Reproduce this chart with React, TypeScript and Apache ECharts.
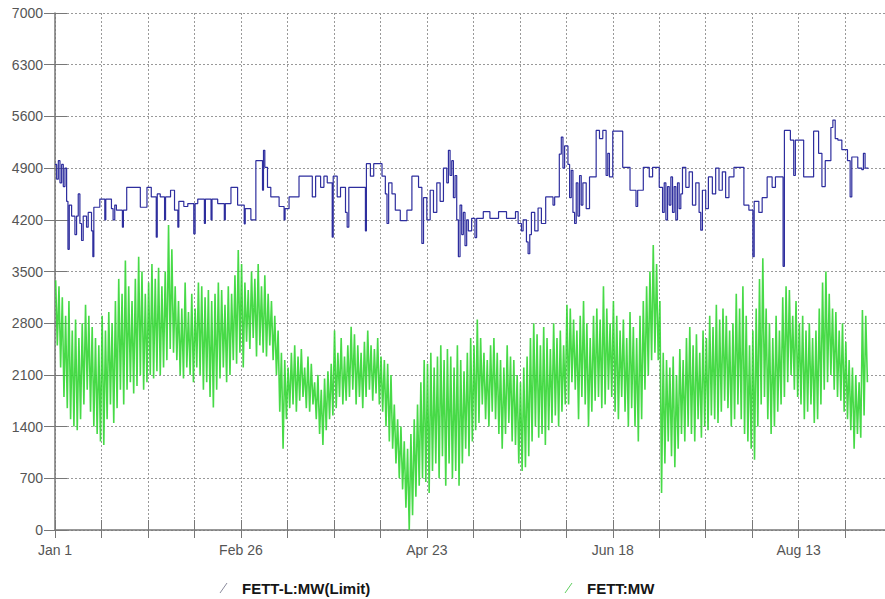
import React, { useEffect, useRef } from "react";
import * as echarts from "echarts";

// Series names
const LIMIT_NAME = "FETT-L:MW(Limit)";
const FLOW_NAME = "FETT:MW";

// X axis: day index from Jan 1, labelled every 56 days
const xLabelDays = [0, 56, 112, 168, 224];
const xLabelTexts = ["Jan 1", "Feb 26", "Apr 23", "Jun 18", "Aug 13"];

// Y axis
const yMin = 0;
const yMax = 7000;
const yStep = 700;

// FETT-L:MW(Limit) — stepped limit, [day, MW] change points
const limitSteps: [number, number][] = [
  [0, 4950], [0.5, 4750], [1, 5000], [1.5, 4700], [2, 4950], [2.5, 4650], [3, 4900], [3.5, 4450],
  [3.9, 3800], [4.3, 4400], [5, 4250], [6, 4000], [6.5, 4250], [7, 4550], [7.5, 4150], [8, 3920],
  [8.5, 4250], [9.5, 4100], [10, 4300], [11, 4050], [11.4, 3700], [11.7, 4370], [13.5, 4480],
  [15, 4200], [15.3, 4480], [17, 4350], [17.5, 4200], [18, 4400], [18.5, 4330], [20.3, 4100],
  [20.6, 4330], [21.6, 4640], [25.7, 4370], [27.7, 4640], [29, 4510], [30.5, 3965], [30.8, 4550],
  [31.7, 4510], [33, 4200], [33.3, 4510], [34.8, 4600], [36, 4330], [37, 4100], [37.3, 4450],
  [38.8, 4380], [40, 4420], [41.8, 4010], [42.2, 4420], [43, 4480], [45, 4150], [45.3, 4480],
  [47, 4200], [47.3, 4480], [49, 4420], [51, 4200], [51.3, 4420], [53, 4640], [55, 4400],
  [57, 4145], [57.3, 4350], [59, 4200], [60.5, 5000], [62.5, 4600], [62.8, 5140], [63.2, 4910],
  [64, 4640], [65, 4510], [67.5, 4380], [69, 4200], [69.3, 4350], [70.5, 4510], [73.5, 4790],
  [77.5, 4510], [78.5, 4790], [80, 4640], [81, 4790], [82, 4700], [83.5, 3965], [83.8, 4790],
  [85, 4510], [86, 4640], [87.5, 4300], [88, 4100], [88.5, 4640], [93.5, 4050], [93.8, 4960],
  [95, 4790], [96, 4960], [98.5, 4790], [99.5, 4550], [100, 4150], [100.5, 4700], [101.5, 4550],
  [102.5, 4330], [104, 4190], [106, 4330], [107.5, 4790], [109.5, 4640], [110.5, 3880], [111, 4500],
  [112, 4200], [113, 4600], [114, 4300], [115, 4700], [116, 4450], [117, 4900], [118, 4700],
  [118.5, 5140], [119, 4800], [119.5, 5000], [120, 4500], [120.5, 4800], [121, 4200], [121.5, 3700],
  [122, 4400], [122.5, 4000], [123, 4300], [123.5, 3850], [124, 4200], [124.5, 4050], [125.5, 4220],
  [126.5, 3960], [127, 4220], [129, 4310], [131, 4220], [133.6, 4310], [136, 4220], [138.7, 4310],
  [139.5, 4150], [140.5, 4050], [141, 4200], [142, 3900], [142.5, 3740], [143, 4000], [143.5, 4300],
  [144.5, 4050], [145.5, 4360], [146.5, 4150], [147.8, 4510], [150, 4400], [150.5, 4510],
  [151.9, 5090], [152.5, 5320], [153, 4900], [153.5, 5200], [154.5, 4950], [155, 4500], [155.5, 4870],
  [156, 4300], [156.5, 4150], [157, 4700], [157.5, 4250], [158, 4800], [158.5, 4400], [159, 4700],
  [160, 4350], [161, 4780], [163, 5410], [164, 5300], [165, 5410], [166, 4800], [166.5, 5100],
  [167, 4780], [168, 5400], [171, 4910], [173.2, 4600], [175, 4380], [175.5, 4600], [177.2, 4910],
  [179, 4780], [180, 4910], [182, 4640], [183, 4300], [183.5, 4700], [184, 4200], [184.5, 4650],
  [185, 4400], [185.5, 4780], [186, 4300], [186.5, 4650], [187, 4200], [187.5, 4700], [188, 4350],
  [188.5, 4550], [189, 4910], [190, 4640], [191, 4850], [192, 4400], [193, 4700], [194, 4300],
  [194.5, 4060], [195, 4600], [196, 4350], [196.8, 4780], [198, 4550], [199, 4900], [200, 4600],
  [201, 4850], [202, 4500], [203, 4780], [204.5, 4910], [207.5, 4400], [209, 4330], [210.2, 3700],
  [210.6, 4450], [212, 4300], [213, 4500], [214.5, 4780], [216, 4640], [217, 4780], [219.3, 3570],
  [219.7, 5410], [221.5, 5280], [222.5, 4800], [223, 5280], [225.5, 4780], [228.5, 5400],
  [230, 5100], [231, 4650], [232, 5000], [233.7, 5450], [234.3, 5550], [235, 5300], [235.8, 5280],
  [237, 5150], [238.7, 5000], [239.5, 4510], [240, 5050], [241.8, 4900], [243, 4880], [243.5, 5100],
  [244, 4900], [245, 4900],
];

// FETT:MW — daily high and low, day 0 .. 244
const flowHigh = [
  3380, 3300, 3150, 2900, 3100, 2700, 2850, 2600, 2800, 3050, 2900, 2750, 2600, 2500, 2900, 2700,
  2950, 2800, 3100, 3400, 3200, 3650, 3300, 3100, 3400, 3700, 3500, 3200, 3350, 3600, 3400, 3550,
  3300, 3500, 4130, 3800, 3300, 3100, 3000, 3350, 2950, 3200, 3000, 3350, 3300, 3150, 3250, 3100,
  3200, 3350, 3250, 3050, 3300, 3200, 3450, 3790, 3600, 3350, 3250, 3500, 3400, 3600, 3300, 3450,
  3200, 3100, 2900, 2700, 2400, 2300, 2200, 2400, 2500, 2350, 2450, 2200, 2350, 2250, 2000, 2100,
  1900, 2050, 2150, 2250, 2700, 2400, 2600, 2350, 2500, 2750, 2650, 2500, 2400, 2550, 2700, 2500,
  2450, 2600, 2350, 2300, 2250, 2100, 1700, 1500, 1400, 1200, 1100, 1300, 1500, 1700, 2000, 2300,
  2250, 2400, 2200, 2350, 2500, 2300, 2450, 2350, 2200, 2500, 2300, 2150, 2400, 2600, 2500, 2850,
  2600, 2400, 2300, 2500, 2600, 2400, 2300, 2200, 2500, 2350, 2300, 2100, 2000, 2200, 2350, 2600,
  2800, 2650, 2500, 2750, 2600, 2450, 2800, 2600, 2700, 2500, 3050, 3000, 2850, 2700, 2900, 3100,
  2800, 2600, 2900, 3000, 2850, 3300, 3000, 2800, 3100, 2900, 2700, 2850, 2600, 2950, 2750, 2600,
  2900, 3100, 3300, 3500, 3860, 3600, 3100, 2400, 2300, 2200, 2350, 2100, 2450, 2300, 2600, 2750,
  2500, 2650, 2400, 2700, 2600, 2900, 2750, 3050, 2850, 3000, 2900, 2700, 2800, 3200, 3000, 3300,
  2900, 2500, 2700, 3000, 3400, 3680, 3000, 2800, 2600, 2900, 2700, 3150, 3300, 3250, 2900, 3100,
  2800, 2900, 2700, 2800, 2600, 2700, 3000, 3350, 3500, 3200, 3000, 2950, 2700, 2800, 2550, 2300,
  2200, 2100, 2000, 2980, 2900,
];
const flowLow = [
  2500, 2200, 1800, 1650, 1500, 1400, 1350, 1500, 1700, 1900, 1600, 1400, 1300, 1200, 1150, 1500,
  1700, 1450, 1650, 1900, 1700, 1900, 2000, 1850, 1950, 2100, 1900, 2000, 2100, 2050, 2150, 2100,
  2200, 2300, 2450, 2400, 2300, 2100, 2050, 2200, 2100, 2000, 2200, 2100, 1900, 2000, 1800, 1660,
  1900, 2050, 2200, 2000, 2100, 2300, 2250, 2400, 2200, 2550, 2450, 2600, 2350, 2500, 2400, 2350,
  2500, 2300, 2100, 1600, 1100, 1500, 1650, 1700, 1600, 1750, 1800, 1650, 1600, 1700, 1500, 1300,
  1150, 1350, 1500, 1550, 1650, 1800, 1700, 1750, 1800, 1900, 1700, 1800, 1650, 1800, 1900, 1750,
  1850, 1700, 1600, 1400, 1200, 1100, 900, 700, 550, 300, 0, 200, 450, 600, 700, 650,
  500, 800, 900, 700, 1000, 600, 900, 700, 800, 600, 900, 1100, 1000, 1200, 1350, 1450,
  1700, 1500, 1400, 1600, 1500, 1300, 1100, 1300, 1450, 1200, 1150, 900, 800, 850, 1000, 1200,
  1400, 1250, 1300, 1150, 1350, 1450, 1550, 1400, 1600, 1700, 1700, 2000, 1900, 1500, 1800, 1700,
  1400, 1600, 1750, 1800, 1650, 1700, 1900, 1800, 1600, 1500, 1800, 1600, 1400, 1650, 1400, 1200,
  1500, 1900, 2100, 2300, 2400, 2300, 500, 900, 1200, 1000, 850, 1100, 1300, 1200, 1400, 1300,
  1200, 1500, 1250, 1400, 1350, 1550, 1500, 1450, 1600, 1750, 1650, 1400, 1500, 1700, 1500, 1300,
  1200, 1100, 950, 1400, 1700, 1800, 1500, 1300, 1400, 1600, 1700, 1800, 2000, 2100, 1900, 1800,
  1700, 1500, 1600, 1700, 1450, 1500, 1700, 1900, 2000, 2100, 1900, 1800, 1750, 1600, 1500, 1350,
  1100, 1300, 1250, 1550, 2000,
];

// Each day: the high early in the day, the low later on
const flowPoints: [number, number][] = [];
flowHigh.forEach((hi, d) => {
  flowPoints.push([d + 0.2, hi]);
  flowPoints.push([d + 0.7, flowLow[d]]);
});

const axisColor = "#777";
const labelStyle = { color: "#555", fontSize: 14, fontFamily: "Liberation Sans, Arial, sans-serif" };
const gridLine = { show: true, lineStyle: { color: "#999", type: [2, 2] as number[], width: 1 } };

export default function App() {
  const ref = useRef<HTMLDivElement>(null);

  useEffect(() => {
    if (!ref.current) return;
    const chart = echarts.init(ref.current, null, { renderer: "svg" });
    chart.setOption({
      animation: false,
      backgroundColor: "#fff",
      grid: { left: 55, right: 0, top: 13, bottom: 69, containLabel: false },
      xAxis: [
        {
          type: "value",
          min: 0,
          max: 250,
          interval: 14,
          axisLine: { show: true, onZero: false, lineStyle: { color: axisColor, width: 1.5 } },
          axisTick: { show: true, length: 8, lineStyle: { color: axisColor } },
          axisLabel: {
            ...labelStyle,
            margin: 13,
            showMaxLabel: false,
            formatter: (v: number) => {
              const i = xLabelDays.indexOf(Math.round(v));
              return i >= 0 ? xLabelTexts[i] : "";
            },
          },
          splitLine: gridLine,
        },
        {
          type: "value",
          position: "bottom",
          min: 0,
          max: 250,
          interval: 14,
          axisLine: { show: false },
          axisTick: { show: true, inside: true, length: 10, lineStyle: { color: axisColor } },
          axisLabel: { show: false },
          splitLine: { show: false },
        },
      ],
      yAxis: [
        {
          type: "value",
          min: yMin,
          max: yMax,
          interval: yStep,
          axisLine: { show: true, onZero: false, lineStyle: { color: axisColor, width: 1.5 } },
          axisTick: { show: true, length: 11, lineStyle: { color: axisColor } },
          axisLabel: { ...labelStyle, margin: 12, formatter: (v: number) => String(v) },
          splitLine: gridLine,
        },
        {
          type: "value",
          position: "left",
          min: yMin,
          max: yMax,
          interval: yStep,
          axisLine: { show: false },
          axisTick: { show: true, inside: true, length: 12, lineStyle: { color: axisColor } },
          axisLabel: { show: false },
          splitLine: { show: false },
        },
      ],
      series: [
        {
          name: FLOW_NAME,
          type: "line",
          xAxisIndex: 0,
          yAxisIndex: 0,
          data: flowPoints,
          showSymbol: false,
          lineStyle: { color: "#33d633", width: 1.6, opacity: 0.9 },
          itemStyle: { color: "#33d633" },
          z: 2,
        },
        {
          name: LIMIT_NAME,
          type: "line",
          step: "end",
          xAxisIndex: 0,
          yAxisIndex: 0,
          data: limitSteps,
          showSymbol: false,
          lineStyle: { color: "#2e2e9e", width: 1.2 },
          itemStyle: { color: "#2e2e9e" },
          z: 3,
        },
      ],
      graphic: [
        {
          type: "line",
          shape: { x1: 220, y1: 593, x2: 227, y2: 583 },
          style: { stroke: "#8a8a9c", lineWidth: 1 },
        },
        {
          type: "text",
          x: 242,
          y: 588,
          style: {
            text: LIMIT_NAME,
            fill: "#151515",
            font: 'bold 15px "Liberation Sans", Arial, sans-serif',
            verticalAlign: "middle",
          },
        },
        {
          type: "line",
          shape: { x1: 565, y1: 593, x2: 572, y2: 583 },
          style: { stroke: "#5fcf5f", lineWidth: 1 },
        },
        {
          type: "text",
          x: 587,
          y: 588,
          style: {
            text: FLOW_NAME,
            fill: "#151515",
            font: 'bold 15px "Liberation Sans", Arial, sans-serif',
            verticalAlign: "middle",
          },
        },
      ],
    });
    return () => chart.dispose();
  }, []);

  return (
    <div
      ref={ref}
      style={{ position: "fixed", left: 0, top: 0, width: 885, height: 599 }}
    />
  );
}
